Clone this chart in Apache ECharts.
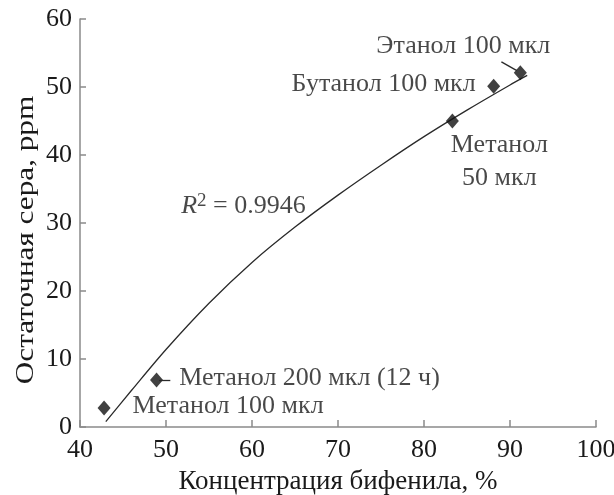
<!DOCTYPE html>
<html>
<head>
<meta charset="utf-8">
<script src="https://cdn.jsdelivr.net/npm/echarts@6/dist/echarts.min.js"></script>
<style>
  html, body { margin: 0; padding: 0; background: #fff; }
  #chart { width: 614px; height: 495px; }
</style>
</head>
<body>
<div id="chart"></div>
<script>
// измеренные точки: [бифенил %, сера ppm]
var pointNames = ["Метанол 100 мкл", "Метанол 200 мкл (12 ч)", "Метанол\n50 мкл", "Бутанол 100 мкл", "Этанол 100 мкл"];
var pointX = [42.8, 48.9, 83.3, 88.1, 91.2];
var pointY = [2.8, 6.9, 45.0, 50.1, 52.1];
// смещения подписей от маркера, px
var labelOffsets = [[124, -2], [153, -2], [47, 41], [-110, -2], [-57, -27]];

// линия тренда
var trendX = [43.0, 46, 50, 55, 60, 65, 70, 75, 80, 85, 90, 92];
var trendY = [0.8, 5.4, 11.4, 18.2, 24.2, 29.4, 34.1, 38.5, 42.7, 46.6, 50.3, 51.7];

var xTicks = [40, 50, 60, 70, 80, 90, 100];
var yTicks = [0, 10, 20, 30, 40, 50, 60];

var font = "'Liberation Serif', 'DejaVu Serif', serif";
var axisColor = "#8a8a8a";
var textColor = "#1a1a1a";

var scatterData = [];
for (var i = 0; i < pointX.length; i++) {
	scatterData.push({
		value: [pointX[i], pointY[i]],
		name: pointNames[i],
		label: { offset: labelOffsets[i] }
	});
}
var trendData = [];
for (var j = 0; j < trendX.length; j++) {
	trendData.push([trendX[j], trendY[j]]);
}

var myChart = echarts.init(document.getElementById("chart"));
var option = {
	animation: false,
	grid: { left: 80, right: 18, top: 19, bottom: 68, outerBoundsMode: "none", containLabel: false },
	// подпись оси Y растянута по длине, как в оригинале
	graphic: [{
		type: "text",
		x: 26,
		y: 240,
		rotation: Math.PI / 2,
		scaleX: 1.2,
		style: {
			text: "Остаточная сера, ppm",
			font: "26px " + font,
			fill: textColor,
			align: "center",
			verticalAlign: "middle"
		}
	}],
	xAxis: {
		type: "value",
		min: xTicks[0],
		max: xTicks[xTicks.length - 1],
		interval: 10,
		name: "Концентрация бифенила, %",
		nameLocation: "middle",
		nameGap: 41,
		nameTextStyle: { fontFamily: font, fontSize: 27, color: textColor },
		axisLine: { lineStyle: { color: axisColor, width: 1.5 } },
		axisTick: { inside: true, length: 7, lineStyle: { color: axisColor, width: 1.5 } },
		axisLabel: { margin: 10, fontFamily: font, fontSize: 26, color: textColor },
		splitLine: { show: false }
	},
	yAxis: {
		type: "value",
		min: yTicks[0],
		max: yTicks[yTicks.length - 1],
		interval: 10,
		axisLine: { show: true, lineStyle: { color: axisColor, width: 1.5 } },
		axisTick: { show: true, inside: true, length: 6, lineStyle: { color: axisColor, width: 1.5 } },
		axisLabel: { margin: 8, fontFamily: font, fontSize: 26, color: textColor },
		splitLine: { show: false }
	},
	series: [
		{
			type: "line",
			data: trendData,
			smooth: 0.3,
			showSymbol: false,
			lineStyle: { color: "#2a2a2a", width: 1.3 },
			z: 2
		},
		{
			type: "scatter",
			data: scatterData,
			symbol: "diamond",
			symbolSize: [13, 15],
			itemStyle: { color: "#111" },
			label: {
				show: true,
				position: "inside",
				formatter: "{b}",
				fontFamily: font,
				fontSize: 26,
				lineHeight: 33,
				align: "center",
				color: textColor
			},
			markLine: {
				silent: true,
				symbol: "none",
				label: { show: false },
				lineStyle: { color: "#2a2a2a", width: 1.3, type: "solid" },
				data: [
					[{ coord: [89.0, 53.7] }, { coord: [90.8, 52.4] }],
					[{ coord: [49.2, 6.9] }, { coord: [50.5, 6.9] }]
				]
			},
			z: 3
		},
		{
			type: "scatter",
			data: [{ value: [59.0, 32.5], name: "r2" }],
			symbolSize: 0,
			label: {
				show: true,
				position: "inside",
				formatter: "{i|R}{s|2}{n| = 0.9946}",
				rich: {
					i: { fontFamily: font, fontSize: 26, fontStyle: "italic", color: textColor },
					s: { fontFamily: font, fontSize: 19, color: textColor, verticalAlign: "top", padding: [0, 0, 10, 0] },
					n: { fontFamily: font, fontSize: 26, color: textColor }
				}
			}
		}
	]
};
myChart.setOption(option);
</script>
</body>
</html>
